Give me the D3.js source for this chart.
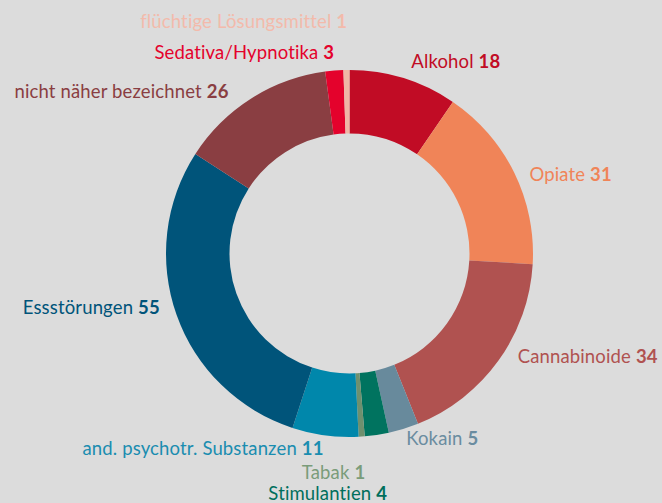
<!DOCTYPE html>
<html>
<head>
<meta charset="utf-8">
<script src="https://cdn.jsdelivr.net/npm/d3@7"></script>
<style>
  html, body { margin: 0; padding: 0; background: #dcdcdc; }
  svg { display: block; }
  text { font-family: Lato, "Noto Sans", sans-serif; font-size: 18.5px; letter-spacing: 0.15px; }
</style>
</head>
<body>
<div class="chart"></div>
<script>
// Daten (Reihenfolge im Uhrzeigersinn ab 12 Uhr)
var categories = ["Alkohol", "Opiate", "Cannabinoide", "Kokain", "Stimulantien", "Tabak",
    "and. psychotr. Substanzen", "Essstörungen", "nicht näher bezeichnet",
    "Sedativa/Hypnotika", "flüchtige Lösungsmittel"];
var values = [18, 31, 34, 5, 4, 1, 11, 55, 26, 3, 1];

// Farben pro Segment / Beschriftung
var colors = ["#c10c25", "#f08458", "#b05250", "#688a9c", "#00735f", "#6e906e",
    "#0087ab", "#00547a", "#8a3e42", "#e4022c", "#f0b6a6"];
var labelColors = ["#c10c25", "#f08458", "#b05250", "#6a8ca0", "#006f5c", "#7a9c7a",
    "#1a8db0", "#00547a", "#8a3e42", "#e4022c", "#f3baab"];

// Beschriftungs-Layout: Ausrichtung + Verschiebung vom Ankerpunkt
var labelAnchor = ["start", "start", "start", "start", "middle", "middle",
    "end", "end", "end", "end", "end"];
var labelShift = [[4, 2], [4, 14], [9, -5], [-1, 4], [-51, 52.5], [-29, 30],
    [0, 7], [-5, -5], [-16, 10], [1, 1], [1, -30]];

var width = 662, height = 503;
var cx = 349.5, cy = 253.5;
var outerR = 183.5, innerR = 120;

var svg = d3.select(".chart")
    .append("svg")
    .attr("width", width)
    .attr("height", height);

var g = svg.append("g")
    .attr("transform", "translate(" + cx + "," + cy + ")");

var pie = d3.pie().sort(null).value(function (d) { return d; });
var arcs = pie(values);

var arc = d3.arc().innerRadius(innerR).outerRadius(outerR);
var labelArc = d3.arc().innerRadius(outerR + 12.5).outerRadius(outerR + 12.5);

g.selectAll("path")
    .data(arcs)
    .enter()
    .append("path")
    .attr("d", arc)
    .attr("fill", function (d, i) { return colors[i]; });

var labels = g.selectAll("text")
    .data(arcs)
    .enter()
    .append("text")
    .attr("x", function (d, i) {
        var c = labelArc.centroid(d);
        return c[0] + labelShift[i][0];
    })
    .attr("y", function (d, i) {
        var c = labelArc.centroid(d);
        return c[1] + labelShift[i][1];
    })
    .attr("text-anchor", function (d, i) { return labelAnchor[i]; })
    .attr("fill", function (d, i) { return labelColors[i]; });

labels.append("tspan").text(function (d, i) { return categories[i] + " "; });
labels.append("tspan")
    .attr("font-weight", "bold")
    .text(function (d) { return d.value; });
</script>
</body>
</html>
